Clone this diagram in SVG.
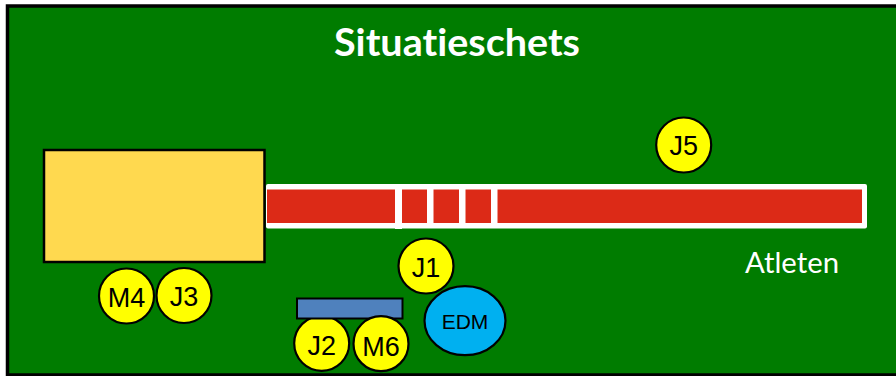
<svg xmlns="http://www.w3.org/2000/svg" width="896" height="376" viewBox="0 0 896 376">
<style>
.p{fill:#ffff00;stroke:#000;stroke-width:2.200}
.l{font-family:"Liberation Sans",Arial,sans-serif;font-size:27px;fill:#000;text-anchor:middle}
.w{font-family:Lato,"Open Sans",sans-serif;fill:#fff;font-variant-ligatures:none}
.s{fill:#fff}
</style>
<rect width="896" height="376" fill="#fff"/>
<g id="field"><rect x="7.500" y="6" width="892" height="369" fill="#007c00" stroke="#000" stroke-width="3.500"/></g>
<g id="title"><text class="w" x="334" y="56" font-size="38.500" font-weight="700" textLength="246" lengthAdjust="spacingAndGlyphs">Situatieschets</text></g>
<g id="mat"><rect x="44" y="150" width="220.500" height="112" fill="#ffd94f" stroke="#000" stroke-width="2.500"/></g>
<g id="track">
<rect x="266" y="184" width="601" height="44.500" rx="2" fill="#fff"/>
<rect x="267" y="189.500" width="595" height="33.500" fill="#dc2a17"/>
<rect class="s" x="395" y="188" width="7" height="41"/>
<rect class="s" x="427" y="188" width="6.500" height="36"/>
<rect class="s" x="459" y="188" width="6.500" height="36"/>
<rect class="s" x="491" y="188" width="6.500" height="36"/>
</g>
<g id="J5"><circle class="p" cx="683.700" cy="145" r="27.500"/><text class="l" x="683.700" y="155">J5</text></g>
<g id="atleten"><text class="w" x="745" y="273" font-size="28.500" textLength="94" lengthAdjust="spacingAndGlyphs">Atleten</text></g>
<g id="M4"><circle class="p" cx="126.500" cy="296" r="27.500"/><text class="l" x="126.500" y="307">M4</text></g>
<g id="J3"><circle class="p" cx="184" cy="295.500" r="27.500"/><text class="l" x="184" y="306">J3</text></g>
<g id="J1"><circle class="p" cx="426" cy="266" r="27.500"/><text class="l" x="426" y="276.500">J1</text></g>
<g id="J2"><circle class="p" cx="321.700" cy="343.300" r="27.500"/><text class="l" x="321.700" y="354.500">J2</text></g>
<g id="table"><rect x="297" y="298.500" width="105.500" height="20" fill="#4f81bd" stroke="#000" stroke-width="2"/></g>
<g id="M6"><circle class="p" cx="381" cy="343.700" r="27.500"/><text class="l" x="381" y="355.500">M6</text></g>
<g id="EDM"><ellipse cx="465" cy="320.700" rx="40.500" ry="34.500" fill="#00b0f0" stroke="#000" stroke-width="2.200"/><text x="465" y="328.500" font-family="Liberation Sans,Arial,sans-serif" font-size="21" text-anchor="middle">EDM</text></g>
<g id="connectors"></g>
</svg>
